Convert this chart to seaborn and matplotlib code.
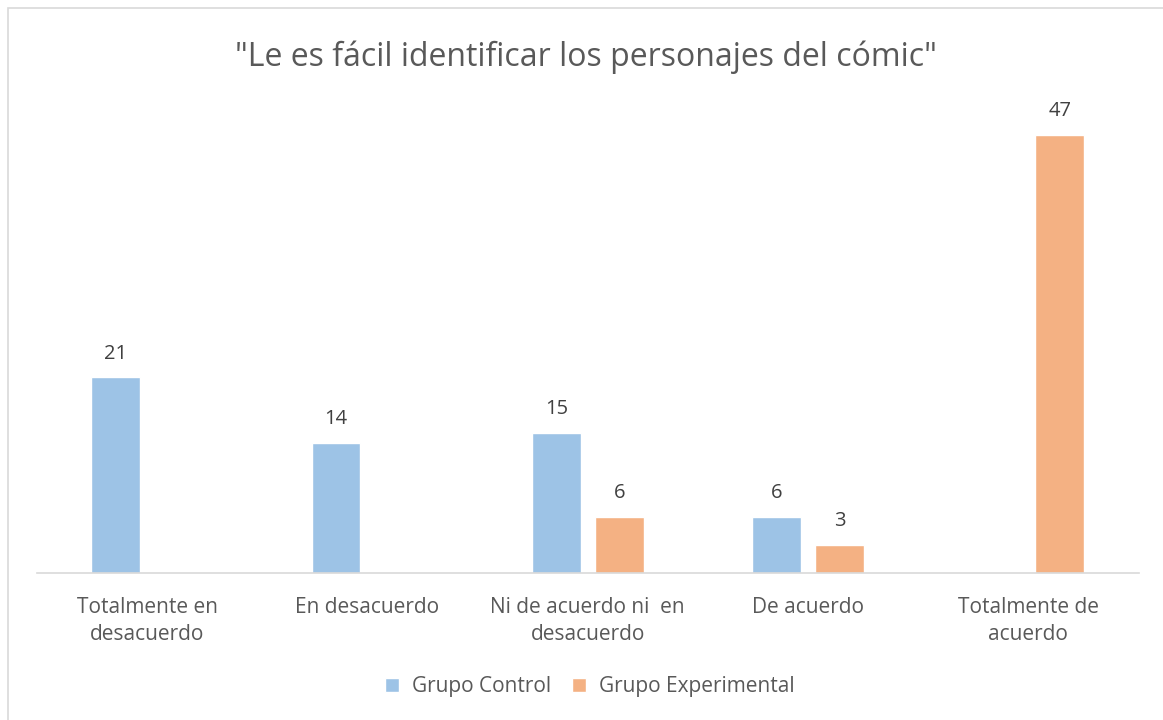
import pandas as pd
import matplotlib.pyplot as plt
import seaborn as sns
from matplotlib.patches import Rectangle, Patch

# datos del gráfico
categorias = ['Totalmente en\ndesacuerdo', 'En desacuerdo', 'Ni de acuerdo ni  en\ndesacuerdo',
              'De acuerdo', 'Totalmente de\nacuerdo']
grupo_control = [21, 14, 15, 6, 0]
grupo_experimental = [0, 0, 6, 3, 47]
grupos = ['Grupo Control', 'Grupo Experimental']
titulo = '"Le es fácil identificar los personajes del cómic"'

df = pd.DataFrame({
    'Categoria': categorias * 2,
    'Valor': grupo_control + grupo_experimental,
    'Grupo': [grupos[0]] * len(categorias) + [grupos[1]] * len(categorias),
})

sns.set_theme(style='white')
plt.rcParams['font.family'] = ['Open Sans', 'DejaVu Sans']

colores = {'Grupo Control': '#9DC3E6', 'Grupo Experimental': '#F4B183'}
gris_texto = '#595959'

fig = plt.figure(figsize=(11.63, 7.2), dpi=100)
ax = fig.add_axes([0.0318, 0.204, 0.9472, 0.647])

sns.barplot(data=df, x='Categoria', y='Valor', hue='Grupo', palette=colores,
            width=0.572, gap=0.224, ax=ax, legend=False, saturation=1)

for cont in ax.containers:
    etiquetas = [f'{int(v)}' if v > 0 else '' for v in cont.datavalues]
    ax.bar_label(cont, labels=etiquetas, padding=10, fontsize=14.5, color='#404040')

ax.set_ylim(0, 50)
ax.set_xlim(-0.5, 4.5)
ax.set_xlabel('')
ax.set_ylabel('')
ax.set_yticks([])
for lado in ['left', 'right', 'top']:
    ax.spines[lado].set_visible(False)
ax.spines['bottom'].set_color('#D9D9D9')
ax.spines['bottom'].set_linewidth(1.2)
ax.tick_params(axis='x', length=0, pad=17, labelsize=15, labelcolor=gris_texto)
for t in ax.get_xticklabels():
    t.set_linespacing(1.42)

fig.text(0.504, 0.92, titulo, ha='center', va='center', fontsize=23, color=gris_texto)

handles = [Patch(facecolor=colores[g], label=g) for g in grupos]
fig.legend(handles=handles, loc='center', bbox_to_anchor=(0.507, 0.046), ncol=2,
           frameon=False, fontsize=15, labelcolor=gris_texto, handlelength=0.7,
           handleheight=0.7, handletextpad=0.6, columnspacing=1.0)

# borde del área del gráfico
fig.patches.append(Rectangle((8 / 1163, -0.1), 1.2, 1.1 - 8 / 720, transform=fig.transFigure,
                             fill=False, edgecolor='#D9D9D9', linewidth=1.2))

fig.savefig('out.png', dpi=100)
